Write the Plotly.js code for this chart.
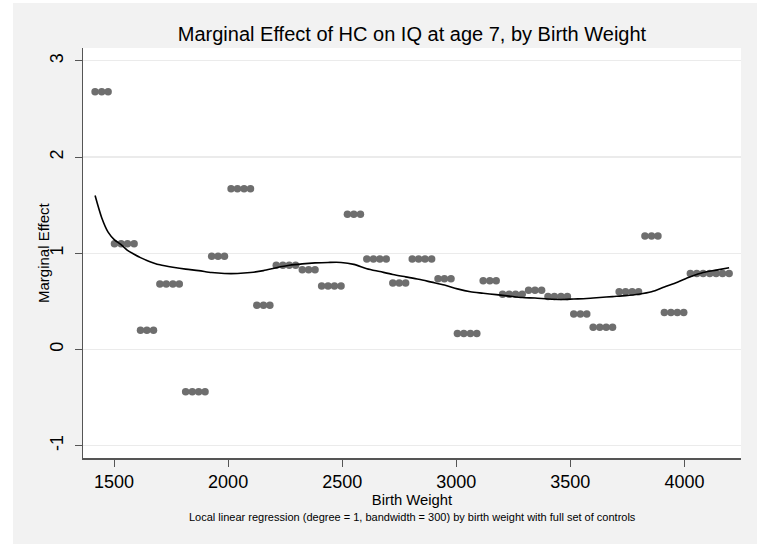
<!DOCTYPE html>
<html>
<head>
<meta charset="utf-8">
<script src="https://cdn.plot.ly/plotly-3.0.1.min.js"></script>
<style>
  html, body { margin: 0; padding: 0; background: #ffffff; }
  #chart { position: absolute; left: 13px; top: 3px; width: 744px; height: 541px; }
</style>
</head>
<body>
<div id="chart"></div>
<script>
// Binned marginal effects, plotted at each recorded birth weight (grams)
const pointWeights = [
  1417, 1446, 1474,
  1502, 1531, 1559, 1588,
  1616, 1644, 1673,
  1701, 1729, 1758, 1786,
  1814, 1843, 1871, 1899,
  1928, 1956, 1984,
  2013, 2041, 2070, 2098,
  2126, 2155, 2183,
  2211, 2240, 2268, 2296,
  2325, 2353, 2381,
  2410, 2438, 2466, 2495,
  2523, 2551, 2580,
  2608, 2637, 2665, 2693,
  2722, 2750, 2778,
  2807, 2835, 2863, 2892,
  2920, 2948, 2977,
  3005, 3033, 3062, 3090,
  3118, 3147, 3175,
  3203, 3232, 3260, 3289,
  3317, 3345, 3374,
  3402, 3430, 3459, 3487,
  3515, 3544, 3572,
  3600, 3629, 3657, 3685,
  3714, 3742, 3771, 3799,
  3827, 3856, 3884,
  3912, 3941, 3969, 3997,
  4026, 4054, 4082, 4111, 4139, 4167, 4196
];
const pointEffects = [
  2.68, 2.68, 2.68,
  1.10, 1.10, 1.10, 1.10,
  0.20, 0.20, 0.20,
  0.68, 0.68, 0.68, 0.68,
  -0.44, -0.44, -0.44, -0.44,
  0.97, 0.97, 0.97,
  1.67, 1.67, 1.67, 1.67,
  0.46, 0.46, 0.46,
  0.875, 0.875, 0.875, 0.875,
  0.83, 0.83, 0.83,
  0.66, 0.66, 0.66, 0.66,
  1.405, 1.405, 1.405,
  0.94, 0.94, 0.94, 0.94,
  0.69, 0.69, 0.69,
  0.94, 0.94, 0.94, 0.94,
  0.735, 0.735, 0.735,
  0.165, 0.165, 0.165, 0.165,
  0.715, 0.715, 0.715,
  0.575, 0.575, 0.575, 0.575,
  0.615, 0.615, 0.615,
  0.55, 0.55, 0.55, 0.55,
  0.37, 0.37, 0.37,
  0.23, 0.23, 0.23, 0.23,
  0.60, 0.60, 0.60, 0.60,
  1.18, 1.18, 1.18,
  0.385, 0.385, 0.385, 0.385,
  0.79, 0.79, 0.79, 0.79, 0.79, 0.79, 0.79
];

// Local linear regression fit
const fitWeights = [1417, 1446, 1474, 1502, 1531, 1559, 1588, 1616, 1644, 1673, 1701, 1758, 1814, 1871, 1928, 1984, 2041, 2098, 2155, 2211, 2268, 2325, 2381, 2438, 2495, 2551, 2608, 2665, 2722, 2778, 2835, 2892, 2948, 3005, 3062, 3118, 3175, 3232, 3289, 3345, 3402, 3459, 3515, 3572, 3629, 3685, 3742, 3799, 3856, 3912, 3969, 4026, 4082, 4139, 4196];
const fitEffects = [1.60, 1.37, 1.22, 1.14, 1.09, 1.03, 0.99, 0.955, 0.925, 0.90, 0.88, 0.855, 0.835, 0.82, 0.80, 0.79, 0.79, 0.80, 0.82, 0.85, 0.875, 0.89, 0.90, 0.905, 0.905, 0.885, 0.84, 0.81, 0.78, 0.755, 0.73, 0.70, 0.67, 0.63, 0.60, 0.585, 0.57, 0.555, 0.54, 0.535, 0.525, 0.52, 0.525, 0.53, 0.54, 0.55, 0.56, 0.575, 0.60, 0.65, 0.70, 0.755, 0.80, 0.825, 0.85];

const xTicks = [1500, 2000, 2500, 3000, 3500, 4000];
const yTicks = [-1, 0, 1, 2, 3];

const titleText = 'Marginal Effect of HC on IQ at age 7, by Birth Weight';
const xTitle = 'Birth Weight';
const yTitle = 'Marginal Effect';
const noteText = 'Local linear regression (degree = 1, bandwidth = 300) by birth weight with full set of controls';

const FONT = 'Liberation Sans, Arial, Helvetica, sans-serif';

const traces = [
  {
    type: 'scatter', mode: 'markers',
    x: pointWeights, y: pointEffects,
    marker: { color: '#6e6e6e', size: 7.5, line: { width: 0 } },
    hoverinfo: 'x+y', showlegend: false
  },
  {
    type: 'scatter', mode: 'lines',
    x: fitWeights, y: fitEffects,
    line: { color: '#000000', width: 1.6, shape: 'spline', smoothing: 0.8 },
    showlegend: false
  }
];

const layout = {
  width: 744, height: 541,
  paper_bgcolor: '#f2f2f2',
  plot_bgcolor: '#ffffff',
  margin: { l: 70, r: 16, t: 45, b: 86 },
  font: { family: FONT, color: '#000000' },
  title: {
    text: titleText,
    font: { family: FONT, size: 20, color: '#000000' },
    x: 0.5, xref: 'paper', xanchor: 'center',
    y: 0.943, yref: 'container', yanchor: 'middle'
  },
  xaxis: {
    range: [1364, 4248],
    tickvals: xTicks, ticktext: xTicks.map(String),
    ticks: 'outside', ticklen: 7, tickcolor: '#555555', tickwidth: 1,
    showline: true, linecolor: '#555555', linewidth: 1.5,
    showgrid: false, zeroline: false,
    tickfont: { family: FONT, size: 18, color: '#000000' },
    title: { text: xTitle, font: { family: FONT, size: 14.8, color: '#000000' }, standoff: 2 }
  },
  yaxis: {
    range: [-1.128, 3.134],
    tickvals: yTicks, ticktext: yTicks.map(String),
    tickangle: -90,
    ticks: 'outside', ticklen: 7, tickcolor: '#555555', tickwidth: 1,
    ticklabelstandoff: 4,
    showline: true, linecolor: '#555555', linewidth: 1.5,
    showgrid: true, gridcolor: '#ebebeb', gridwidth: 1.2,
    zeroline: false,
    tickfont: { family: FONT, size: 18, color: '#000000' }
  },
  annotations: [
    {
      text: yTitle, showarrow: false, textangle: -90,
      xref: 'paper', yref: 'paper', x: (43 - 83) / 658, y: 0.5,
      xanchor: 'center', yanchor: 'middle',
      font: { family: FONT, size: 15, color: '#000000' }
    },
    {
      text: noteText, showarrow: false,
      xref: 'paper', yref: 'paper', x: 0.5, y: (458 - 517) / 410,
      xanchor: 'center', yanchor: 'middle',
      font: { family: FONT, size: 11, color: '#000000' }
    }
  ]
};

Plotly.newPlot('chart', traces, layout, { displayModeBar: false, staticPlot: true });
</script>
</body>
</html>
